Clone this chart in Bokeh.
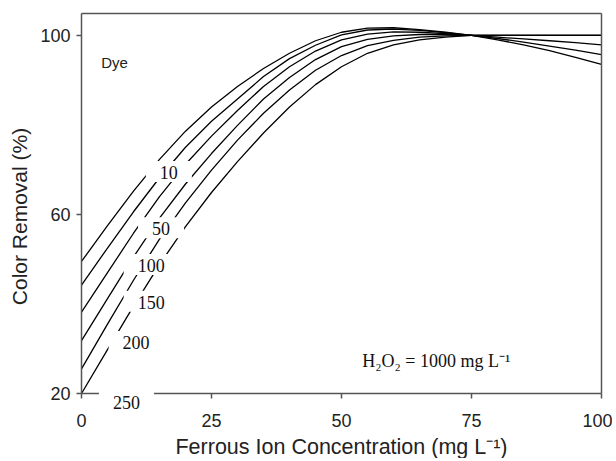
from bokeh.plotting import figure
from bokeh.models import Label, FixedTicker, Range1d, LinearAxis
from bokeh.embed import file_html
from bokeh.resources import INLINE

# Data
ferrous = [0, 5, 10, 15, 20, 25, 30, 35, 40, 45, 50, 55, 60, 65, 70, 75, 80, 85, 90, 95, 100]
dye = ["10", "50", "100", "150", "200", "250"]
removal_10 = [49.5, 57.5, 65.2, 72.3, 78.6, 84.0, 88.6, 92.6, 96.0, 98.8, 100.7, 101.6, 101.7, 101.3, 100.7, 100.0, 99.0, 97.9, 96.6, 95.1, 93.5]
removal_50 = [44.2, 52.5, 60.6, 68.2, 75.0, 80.8, 85.8, 90.8, 94.8, 97.8, 100.1, 101.2, 101.4, 101.1, 100.6, 100.0, 99.3, 98.5, 97.6, 96.7, 95.7]
removal_100 = [38.2, 47.0, 55.8, 64.0, 71.2, 77.5, 83.2, 88.6, 93.0, 96.5, 99.0, 100.3, 100.8, 100.7, 100.4, 100.0, 99.6, 99.2, 98.8, 98.4, 97.9]
removal_150 = [31.8, 41.2, 50.5, 59.2, 66.8, 73.6, 79.9, 85.8, 90.6, 94.6, 97.5, 99.1, 99.9, 100.2, 100.2, 100.0, 100.0, 100.0, 100.0, 100.0, 100.0]
removal_200 = [25.5, 35.5, 45.3, 54.5, 62.6, 69.9, 76.6, 82.6, 87.8, 92.2, 95.5, 97.7, 98.9, 99.6, 99.9, 100.0, 100.0, 100.0, 100.0, 100.0, 100.0]
removal_250 = [20.0, 29.8, 39.5, 48.8, 57.3, 64.9, 71.8, 78.2, 84.0, 89.0, 93.0, 96.0, 97.9, 99.0, 99.6, 100.0, 100.0, 100.0, 100.0, 100.0, 100.0]
series = [removal_10, removal_50, removal_100, removal_150, removal_200, removal_250]
x_ticks = [0, 25, 50, 75, 100]
y_ticks = [20, 60, 100]

SANS = "Liberation Sans"
SERIF = "Liberation Serif"
AX = "#555555"
X0, X1 = 0, 100
Y0, Y1 = 20, 105

# The frame covers the whole canvas; the visible axes box is drawn with fixed axes.
W, H = 612, 458
L, R, T, B = 81.0, 601.0, 12.5, 393.0          # pixel edges of the axes box
sx = (R - L) / (X1 - X0)
sy = (B - T) / (Y1 - Y0)
xr = Range1d(X0 - L / sx, X1 + (W - R) / sx)
yr = Range1d(Y0 - (H - B) / sy, Y1 + T / sy)

p = figure(width=W, height=H, output_backend="svg", toolbar_location=None,
           x_range=xr, y_range=yr, min_border=0)
p.xgrid.visible = False
p.ygrid.visible = False
p.outline_line_color = None
p.background_fill_color = "white"
p.border_fill_color = "white"

for ys in series:
    p.line(ferrous, ys, line_color="black", line_width=1.3)

xax = p.below[0]
yax = p.left[0]
xax.fixed_location = Y0
xax.bounds = (X0, X1)
yax.fixed_location = X0
yax.bounds = (Y0, Y1)

for ax in (xax, yax):
    ax.axis_line_color = AX
    ax.axis_line_width = 1.5
    ax.major_tick_line_color = AX
    ax.major_tick_line_width = 1.5
    ax.major_tick_in = 0
    ax.major_tick_out = 5
    ax.minor_tick_line_color = None
    ax.major_label_text_font = SANS
    ax.major_label_text_font_size = "18px"
    ax.major_label_text_color = "#222222"
    ax.axis_label_text_font = SANS
    ax.axis_label_text_font_size = "21px"
    ax.axis_label_text_font_style = "normal"
    ax.axis_label_text_color = "#222222"

xax.ticker = FixedTicker(ticks=x_ticks)
yax.ticker = FixedTicker(ticks=y_ticks)
xax.axis_label = "Ferrous Ion Concentration (mg L\u207b\u00b9)"
xax.axis_label_text_font_size = "21.5px"
xax.major_label_standoff = 15
xax.axis_label_standoff = 5
yax.major_label_standoff = 6

# y title carried by a bare axis, centred a little below the box middle as in the reference
ytitle = LinearAxis(ticker=FixedTicker(ticks=[]), fixed_location=X0, bounds=(14.1, Y1),
                    axis_line_color=None, major_tick_line_color=None, minor_tick_line_color=None,
                    major_label_text_font_size="0px", major_tick_in=0, major_tick_out=0,
                    major_label_standoff=0, axis_label="Color Removal (%)",
                    axis_label_text_font=SANS, axis_label_text_font_size="21px",
                    axis_label_text_font_style="normal", axis_label_text_color="#222222",
                    axis_label_standoff=51)
p.add_layout(ytitle, "left")

# top and right frame lines
for side, loc, bnds in (("right", X1, (Y0, Y1)), ("above", Y1, (X0, X1))):
    fr = LinearAxis(ticker=FixedTicker(ticks=[]), bounds=bnds, fixed_location=loc,
                    axis_line_color=AX, axis_line_width=1.5,
                    major_tick_line_color=None, minor_tick_line_color=None,
                    major_label_text_font_size="0px", major_tick_in=0, major_tick_out=0,
                    major_label_standoff=0)
    p.add_layout(fr, side)

# in-line curve labels with white boxes
label_pos = [(16.8, 69.6), (15.3, 57.0), (13.4, 48.8), (13.4, 40.6), (10.5, 31.6), (8.65, 18.2)]
for txt, (lx, ly) in zip(dye, label_pos):
    p.add_layout(Label(x=lx, y=ly, text=txt, text_align="center", text_baseline="middle",
                       text_font=SERIF, text_font_size="18px", text_color="#111111",
                       background_fill_color="white", background_fill_alpha=1.0,
                       padding=dict(left=14, right=14, top=5, bottom=3)))

p.add_layout(Label(x=6.35, y=94.05, text="Dye", text_align="center", text_baseline="middle",
                   text_font=SANS, text_font_size="15px", text_color="#222222"))
p.add_layout(Label(x=54.0, y=27.15, text="H\u2082O\u2082 = 1000 mg L\u207b\u00b9", text_align="left",
                   text_baseline="alphabetic", text_font=SERIF, text_font_size="18px",
                   text_color="#111111"))

open("out.html", "w").write(file_html(p, INLINE))
